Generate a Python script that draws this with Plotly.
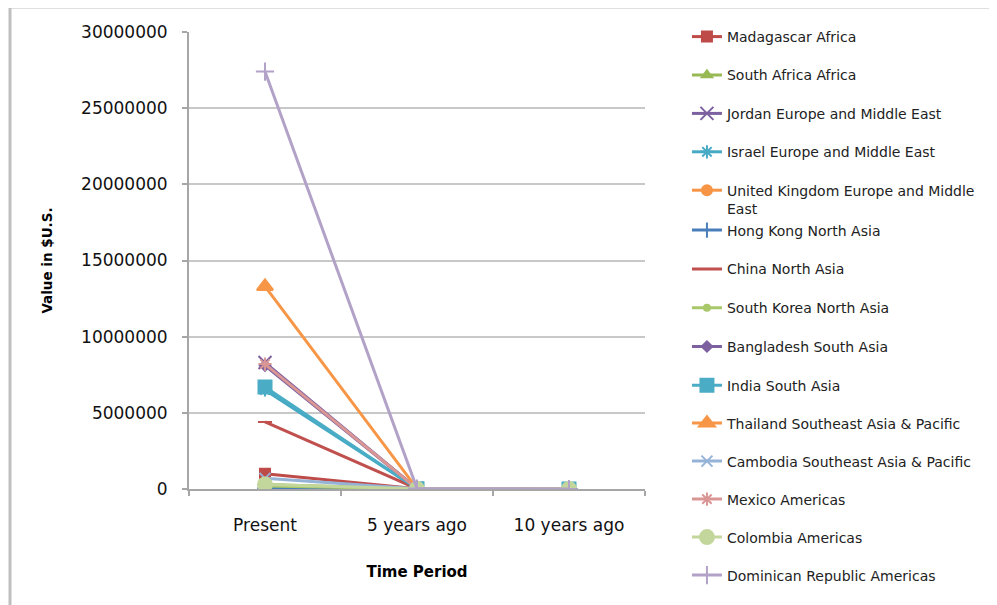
import plotly.graph_objects as go

periods = ["Present", "5 years ago", "10 years ago"]
names = [
    "Madagascar Africa",
    "South Africa Africa",
    "Jordan Europe and Middle East",
    "Israel Europe and Middle East",
    "United Kingdom Europe and Middle<br>East",
    "Hong Kong North Asia",
    "China North Asia",
    "South Korea North Asia",
    "Bangladesh South Asia",
    "India South Asia",
    "Thailand Southeast Asia & Pacific",
    "Cambodia Southeast Asia & Pacific",
    "Mexico Americas",
    "Colombia Americas",
    "Dominican Republic Americas",
]
present = [1000000, 300000, 8300000, 6500000, 100000, 50000, 4400000, 200000,
           8100000, 6700000, 13300000, 700000, 8200000, 300000, 27400000]
five_years = [20000, 10000, 30000, 20000, 10000, 10000, 20000, 10000,
              20000, 20000, 30000, 10000, 20000, 10000, 30000]
ten_years = [0, 0, 0, 0, 0, 0, 0, 0, 0, 0, 0, 0, 0, 0, 0]

colors = ["#BE4B48", "#98B954", "#7D60A0", "#46AAC5", "#F69545", "#4A7EBB",
          "#C0504D", "#A8C86A", "#7D60A0", "#4BACC6", "#F79646", "#95B3D7",
          "#D99694", "#C3D69B", "#B3A2C7"]
symbols = ["square", "triangle-up", "x-thin", "asterisk", "circle", "cross-thin",
           "line-ew", "circle", "diamond", "square", "triangle-up", "x-thin",
           "asterisk", "circle", "cross-thin"]
sizes = [10, 9, 13, 11, 10, 11, 10, 6, 8, 13, 14, 11, 11, 14, 13]

W, H = 989, 597
PT, PH = 24, 457
legend_ids = ["legend"] * 5 + ["legend2"] * 5 + ["legend3"] * 5

fig = go.Figure()
for i, nm in enumerate(names):
    fig.add_trace(go.Scatter(
        x=periods,
        y=[present[i], five_years[i], ten_years[i]],
        name=nm,
        legend=legend_ids[i],
        legendgroup=str(i),
        mode="lines+markers",
        line=dict(color=colors[i], width=3),
        marker=dict(symbol=symbols[i], size=sizes[i], color=colors[i],
                    line=dict(color=colors[i], width=2)),
    ))


def leg(top_px, gap):
    return dict(x=1.092, xanchor="left", yanchor="top",
                y=1 - (top_px - PT) / PH,
                font=dict(family="DejaVu Sans", size=14, color="#222222"),
                tracegroupgap=gap, valign="top", itemwidth=30,
                bgcolor="rgba(0,0,0,0)")


fig.update_layout(
    width=W, height=H,
    margin=dict(l=181, r=352, t=PT, b=116),
    paper_bgcolor="white", plot_bgcolor="white",
    font=dict(family="DejaVu Sans", size=13, color="#000000"),
    showlegend=True,
    legend=leg(13, 17.2),
    legend2=leg(206.5, 17.6),
    legend3=leg(399.5, 16.8),
    xaxis=dict(type="category", range=[-0.5, 2.5], showgrid=False,
               showline=True, linecolor="#A6A6A6", linewidth=2,
               ticks="outside", tickson="boundaries", ticklen=5,
               tickcolor="#A6A6A6", tickwidth=1.5,
               ticklabelstandoff=20,
               tickfont=dict(size=17, family="DejaVu Sans", color="#111111"),
               title=dict(text="<b>Time Period</b>", standoff=32,
                          font=dict(size=15, family="DejaVu Sans"))),
    yaxis=dict(range=[0, 30000000], dtick=5000000, tickformat="d",
               showgrid=True, gridcolor="#C8C8C8", gridwidth=2,
               showline=True, linecolor="#A6A6A6", linewidth=2,
               ticks="outside", ticklen=5, tickcolor="#A6A6A6", tickwidth=1.5,
               ticklabelstandoff=11, zeroline=False,
               tickfont=dict(size=17, family="DejaVu Sans", color="#111111"),
               title=dict(text="<b>Value in $U.S.</b>", standoff=25,
                          font=dict(size=13.5, family="DejaVu Sans"))),
    shapes=[dict(type="rect", xref="paper", yref="paper",
                 x0=(2 - 181) / 456, x1=(1000 - 181) / 456,
                 y0=-(620 - 481) / PH, y1=1 + (PT + 1) / PH,
                 line=dict(color="#BFBFBF", width=3), fillcolor="rgba(0,0,0,0)",
                 layer="below")],
)

fig.write_html("out.html")
